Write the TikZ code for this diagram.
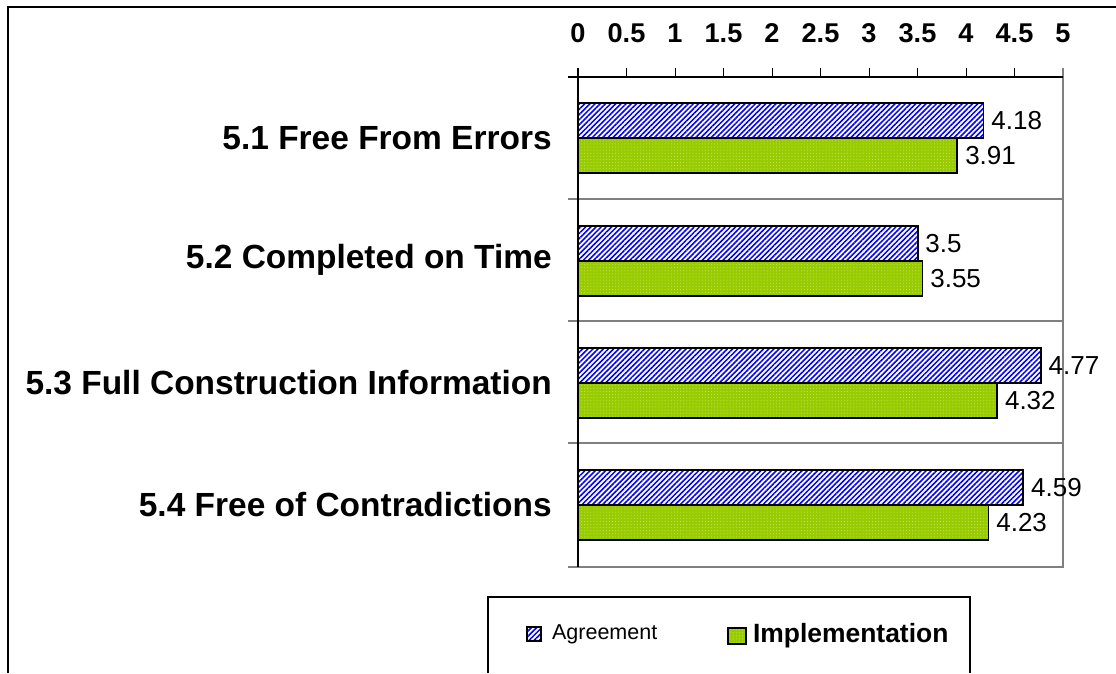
\documentclass[tikz,border=0pt]{standalone}
\usepackage{fontspec}
\setmainfont{Liberation Sans}
\usetikzlibrary{positioning,patterns.meta}
\definecolor{agreeblue}{RGB}{0,0,255}
\definecolor{implgreen}{RGB}{153,204,0}
\definecolor{impldots}{RGB}{200,230,120}
\definecolor{axisgray}{RGB}{128,128,128}

\begin{document}
\begin{tikzpicture}[
  x=0.025cm, y=-0.025cm,
  bar/.style={rectangle, draw, line width=1.3pt, anchor=north west, inner sep=0pt, outer sep=0pt,
    minimum height=0.875cm, minimum width=#1*2.425cm},
  agree/.style={bar=#1, preaction={fill=white}, pattern={Lines[angle=45,distance=2.6pt,line width=1.1pt]}, pattern color=agreeblue},
  impl/.style={bar=#1, preaction={fill=implgreen}, pattern={Dots[distance=2.2pt,radius=0.35pt]}, pattern color=impldots},
  swatch/.style={rectangle, draw, line width=1.1pt, inner sep=0pt},
  val/.style={font=\fontsize{18.5}{21}\selectfont, inner sep=0pt},
  cat/.style={font=\fontsize{23.8}{28}\selectfont\bfseries, anchor=east, inner sep=0pt},
  ticklabel/.style={font=\fontsize{19.3}{22}\selectfont\bfseries, inner sep=0pt},
  divider/.style={axisgray, line width=0.8pt}
]
\useasboundingbox (0,0) rectangle (1116,673);

% outer frame
\draw[line width=1.3pt] (8,673) -- (8,7) -- (1116,7);

% plot area
\draw[divider] (568,199) -- (1063,199);
\draw[divider] (568,321) -- (1063,321);
\draw[divider] (568,443) -- (1063,443);
\draw[axisgray, line width=1.5pt] (568,567) -- (1063,567) -- (1063,68);
\draw[line width=0.8pt] (568,77) -- (1063,77);
\draw[line width=1.1pt] (578,68) -- (578,567);
\draw[line width=0.6pt] (626.5,68) -- (626.5,77) (675,68) -- (675,77) (723.5,68) -- (723.5,77)
  (772,68) -- (772,77) (820.5,68) -- (820.5,77) (869,68) -- (869,77) (917.5,68) -- (917.5,77)
  (966,68) -- (966,77) (1014.5,68) -- (1014.5,77);

\node[ticklabel] (t0) at (578,33) {0};
\node[ticklabel] (t1) at (626.5,33) {0.5};
\node[ticklabel] (t2) at (675,33) {1};
\node[ticklabel] (t3) at (723.5,33) {1.5};
\node[ticklabel] (t4) at (772,33) {2};
\node[ticklabel] (t5) at (820.5,33) {2.5};
\node[ticklabel] (t6) at (869,33) {3};
\node[ticklabel] (t7) at (917.5,33) {3.5};
\node[ticklabel] (t8) at (966,33) {4};
\node[ticklabel] (t9) at (1014.5,33) {4.5};
\node[ticklabel] (t10) at (1063,33) {5};

% bars
\node[agree=4.18] (agree1) at (578,103) {};
\node[impl=3.91] (impl1) at (578,138) {};
\node[agree=3.5] (agree2) at (578,226) {};
\node[impl=3.55] (impl2) at (578,261) {};
\node[agree=4.77] (agree3) at (578,348) {};
\node[impl=4.32] (impl3) at (578,383) {};
\node[agree=4.59] (agree4) at (578,470) {};
\node[impl=4.23] (impl4) at (578,505) {};

\node[val, right=0.19cm of agree1] (vagree1) {4.18};
\node[val, right=0.19cm of impl1] (vimpl1) {3.91};
\node[val, right=0.19cm of agree2] (vagree2) {3.5};
\node[val, right=0.19cm of impl2] (vimpl2) {3.55};
\node[val, right=0.19cm of agree3] (vagree3) {4.77};
\node[val, right=0.19cm of impl3] (vimpl3) {4.32};
\node[val, right=0.19cm of agree4] (vagree4) {4.59};
\node[val, right=0.19cm of impl4] (vimpl4) {4.23};

\node[cat] (cat1) at (552,138) {5.1 Free From Errors};
\node[cat] (cat2) at (552,260) {5.2 Completed on Time};
\node[cat] (cat3) at (552,383) {5.3 Full Construction Information};
\node[cat] (cat4) at (552,505) {5.4 Free of Contradictions};

% legend
\draw[line width=1pt] (488,673) -- (488,597) -- (970,597) -- (970,673);
\node[swatch, minimum size=0.35cm, preaction={fill=white}, pattern={Lines[angle=45,distance=2.6pt,line width=1.1pt]},
  pattern color=agreeblue] (swagree) at (534,634) {};
\node[right=0.25cm of swagree, inner sep=0pt, font=\fontsize{15.3}{18}\selectfont] (lagree) {Agreement};
\node[swatch, minimum width=0.45cm, minimum height=0.4cm, preaction={fill=implgreen},
  pattern={Dots[distance=2.2pt,radius=0.35pt]}, pattern color=impldots] (swimpl) at (737,636) {};
\node[right=0.15cm of swimpl, inner sep=0pt, font=\fontsize{18.8}{22}\selectfont\bfseries] (limpl) {Implementation};
\end{tikzpicture}
\end{document}
